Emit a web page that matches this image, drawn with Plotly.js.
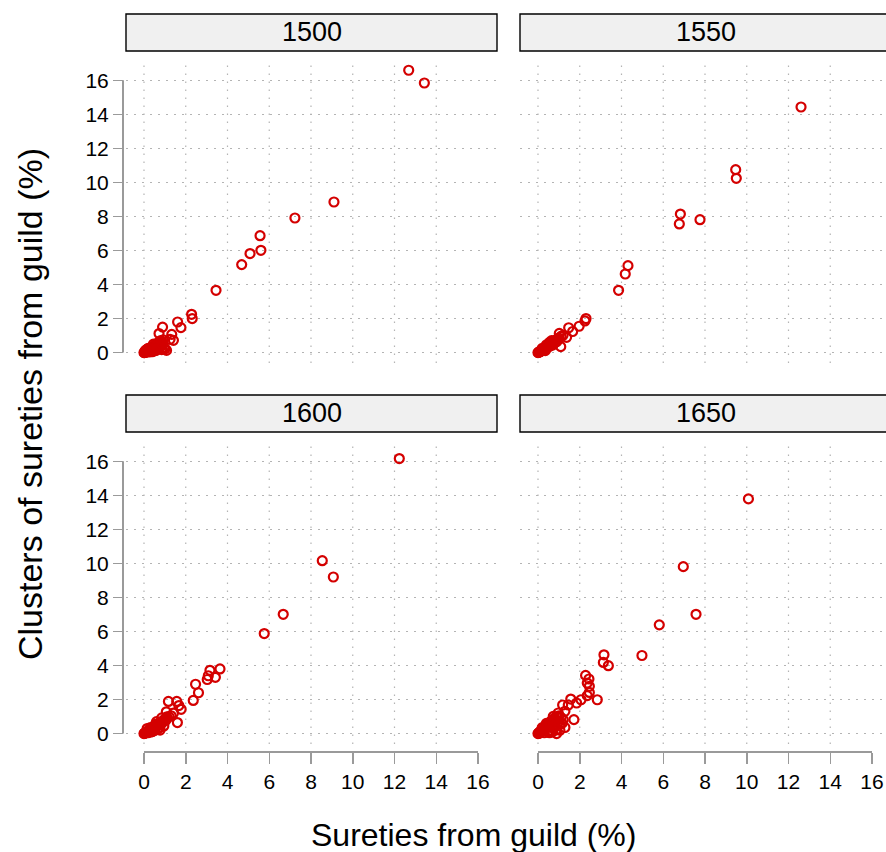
<!DOCTYPE html>
<html>
<head>
<meta charset="utf-8">
<script src="https://cdn.plot.ly/plotly-3.0.1.min.js"></script>
<style>html,body{margin:0;padding:0;background:#fff;}#chart{width:886px;height:852px;}</style>
</head>
<body>
<div id="chart"></div>
<script>
// ---------- data ----------
const panelNames = ["1500", "1550", "1600", "1650"];
const tickVals = [0, 2, 4, 6, 8, 10, 12, 14, 16];
const gridXVals = [0, 2, 4, 6, 8, 10, 12, 14];

const x1500 = [12.68, 13.43, 9.10, 7.23, 5.56, 5.60, 5.08, 4.68, 3.45, 2.28, 2.31, 1.61, 1.77, 0.89, 0.72, 1.33, 1.41, 1.25, 1.01, 1.08,
  0.00, 0.02, 0.05, 0.08, 0.10, 0.12, 0.15, 0.18, 0.20, 0.22, 0.25, 0.28, 0.30, 0.33, 0.35, 0.38, 0.40, 0.42, 0.45, 0.48,
  0.50, 0.52, 0.55, 0.58, 0.60, 0.62, 0.65, 0.68, 0.70, 0.72, 0.75, 0.78, 0.80, 0.85, 0.90, 0.95, 0.05, 0.10, 0.15, 0.20,
  0.30, 0.40, 0.50, 0.60, 0.70, 0.03, 0.25, 0.35, 0.55, 0.65, 0.75, 0.85, 0.45, 0.92];
const y1500 = [16.59, 15.84, 8.85, 7.91, 6.87, 6.01, 5.82, 5.17, 3.66, 2.25, 2.00, 1.80, 1.47, 1.50, 1.12, 1.07, 0.72, 0.78, 0.23, 0.13,
  0.00, 0.00, 0.02, 0.05, 0.03, 0.08, 0.05, 0.10, 0.12, 0.08, 0.15, 0.10, 0.20, 0.15, 0.25, 0.18, 0.30, 0.22, 0.35, 0.25,
  0.40, 0.30, 0.45, 0.35, 0.50, 0.38, 0.55, 0.40, 0.60, 0.45, 0.65, 0.50, 0.70, 0.40, 0.55, 0.30, 0.10, 0.15, 0.20, 0.25,
  0.10, 0.05, 0.20, 0.15, 0.30, 0.01, 0.04, 0.08, 0.12, 0.22, 0.28, 0.18, 0.50, 0.75];

const x1550 = [12.60, 9.47, 9.50, 6.82, 6.77, 7.76, 4.31, 4.18, 3.86, 2.30, 2.25, 1.97, 1.47, 1.66, 1.02, 1.37, 1.09,
  0.00, 0.02, 0.05, 0.08, 0.10, 0.12, 0.15, 0.18, 0.20, 0.23, 0.25, 0.28, 0.30, 0.33, 0.35, 0.38, 0.40, 0.43, 0.45, 0.48,
  0.50, 0.53, 0.55, 0.58, 0.60, 0.63, 0.65, 0.68, 0.70, 0.73, 0.75, 0.80, 0.85, 0.90, 0.95, 1.00, 1.10, 1.20, 0.30, 0.45,
  0.60, 0.75, 0.90, 0.20, 0.40, 0.55, 0.70, 0.85, 0.35, 0.65];
const y1550 = [14.43, 10.75, 10.24, 8.14, 7.56, 7.81, 5.11, 4.62, 3.66, 2.00, 1.86, 1.55, 1.46, 1.24, 1.13, 0.90, 0.35,
  0.00, 0.01, 0.03, 0.05, 0.08, 0.07, 0.12, 0.13, 0.17, 0.18, 0.22, 0.21, 0.26, 0.27, 0.30, 0.30, 0.35, 0.34, 0.40, 0.38,
  0.44, 0.42, 0.48, 0.46, 0.52, 0.50, 0.57, 0.55, 0.62, 0.58, 0.66, 0.70, 0.72, 0.78, 0.80, 0.86, 0.95, 1.02, 0.15, 0.28,
  0.40, 0.52, 0.65, 0.25, 0.45, 0.60, 0.45, 0.62, 0.12, 0.70];

const x1600 = [12.23, 8.54, 9.07, 6.67, 5.76, 3.64, 3.16, 3.08, 3.42, 3.03, 2.47, 2.61, 2.36, 1.17, 1.57, 1.67, 1.78, 1.07, 1.41, 1.60,
  1.09, 0.85, 0.77,
  0.00, 0.02, 0.05, 0.08, 0.10, 0.12, 0.15, 0.18, 0.20, 0.22, 0.25, 0.28, 0.30, 0.33, 0.35, 0.38, 0.40, 0.42, 0.45, 0.48,
  0.50, 0.52, 0.55, 0.58, 0.60, 0.62, 0.65, 0.68, 0.70, 0.75, 0.80, 0.85, 0.90, 0.95, 1.00, 1.05, 1.10, 1.20, 1.30, 0.20,
  0.35, 0.50, 0.65, 0.40, 0.95, 0.30, 0.55, 0.75, 0.60, 0.15];
const y1600 = [16.16, 10.16, 9.20, 7.01, 5.88, 3.80, 3.72, 3.40, 3.31, 3.18, 2.90, 2.40, 1.95, 1.89, 1.89, 1.65, 1.43, 1.28, 1.20, 0.65,
  0.98, 0.92, 0.21,
  0.00, 0.02, 0.03, 0.06, 0.05, 0.10, 0.08, 0.14, 0.12, 0.18, 0.15, 0.22, 0.20, 0.25, 0.28, 0.24, 0.32, 0.30, 0.36, 0.33,
  0.40, 0.38, 0.44, 0.42, 0.48, 0.45, 0.52, 0.50, 0.58, 0.62, 0.68, 0.60, 0.72, 0.80, 0.85, 0.78, 0.90, 1.00, 1.05, 0.05,
  0.10, 0.18, 0.25, 0.12, 0.45, 0.35, 0.55, 0.35, 0.70, 0.30];

const x1650 = [10.08, 6.96, 7.57, 5.81, 4.98, 3.16, 3.13, 3.37, 2.28, 2.44, 2.36, 2.46, 2.46, 2.36, 2.84, 2.06, 1.85, 1.57, 1.45, 1.18,
  1.29, 0.97, 1.72, 0.73, 1.21, 1.29, 0.89,
  0.00, 0.02, 0.05, 0.08, 0.10, 0.12, 0.15, 0.18, 0.20, 0.22, 0.25, 0.28, 0.30, 0.33, 0.35, 0.38, 0.40, 0.42, 0.45, 0.48,
  0.50, 0.52, 0.55, 0.58, 0.60, 0.62, 0.65, 0.68, 0.70, 0.75, 0.80, 0.85, 0.90, 0.95, 1.00, 1.05, 1.10, 0.30, 0.45, 0.60,
  0.75, 0.90, 0.55, 0.70, 1.05, 0.20, 0.40, 0.80, 1.15];
const y1650 = [13.79, 9.81, 7.01, 6.39, 4.59, 4.63, 4.18, 3.99, 3.42, 3.21, 2.97, 2.78, 2.42, 2.23, 1.99, 1.99, 1.80, 2.03, 1.68, 1.68,
  1.31, 1.21, 0.82, 1.01, 0.82, 0.36, 0.00,
  0.00, 0.03, 0.02, 0.08, 0.05, 0.14, 0.10, 0.20, 0.15, 0.26, 0.20, 0.32, 0.25, 0.38, 0.30, 0.45, 0.35, 0.50, 0.40, 0.55,
  0.48, 0.60, 0.52, 0.66, 0.58, 0.72, 0.62, 0.78, 0.70, 0.85, 0.92, 0.75, 0.98, 0.65, 1.05, 0.55, 0.95, 0.05, 0.10, 0.15,
  0.30, 0.25, 0.05, 0.10, 0.20, 0.35, 0.60, 0.45, 0.60];

const seriesX = [x1500, x1550, x1600, x1650];
const seriesY = [y1500, y1550, y1600, y1650];

// ---------- layout geometry (pixels) ----------
const W = 886, H = 852;
const colPx = [[126, 497], [520, 891]];
const rowPx = [[51, 371], [432, 752]];
const stripPx = [[14, 51], [395, 432]];
const xRange = [-0.862, 16.91];
const yRange = [-1.08, 17.72];
const red = "#D40000";
const axisGrey = "#9a9a9a";
const gridGrey = "#b4b4b4";
const FONT = "Liberation Sans, Arial, Helvetica, sans-serif";

const px2x = p => p / W;
const px2y = p => 1 - p / H;

const traces = [];
const layout = {
  width: W, height: H,
  margin: {l: 0, r: 0, t: 0, b: 0},
  paper_bgcolor: "#fff", plot_bgcolor: "rgba(0,0,0,0)",
  showlegend: false,
  font: {family: FONT, color: "#000"},
  shapes: [], annotations: []
};

panelNames.forEach((name, i) => {
  const col = i % 2, row = Math.floor(i / 2);
  const sfx = i === 0 ? "" : String(i + 1);
  const xa = "xaxis" + sfx, ya = "yaxis" + sfx;
  const xr = "x" + sfx, yr = "y" + sfx;
  const x0 = px2x(colPx[col][0]);
  const x1 = Math.min(1, px2x(colPx[col][1]));
  const xRightVal = xRange[0] + (xRange[1] - xRange[0]) * (x1 * W - colPx[col][0]) / (colPx[col][1] - colPx[col][0]);

  traces.push({
    type: "scatter", mode: "markers", name: name,
    x: seriesX[i], y: seriesY[i], xaxis: xr, yaxis: yr,
    marker: {symbol: "circle-open", size: 9, color: red, line: {width: 2.2, color: red}},
    hoverinfo: "x+y"
  });

  const showX = row === 1, showY = col === 0;
  layout[xa] = {
    domain: [x0, x1], range: [xRange[0], xRightVal], anchor: yr,
    showgrid: false, zeroline: false, showline: false,
    tickmode: "array", tickvals: tickVals, ticktext: tickVals.map(String),
    ticks: showX ? "outside" : "", ticklen: 11, tickwidth: 1.5, tickcolor: axisGrey,
    showticklabels: showX, tickfont: {size: 21, family: FONT, color: "#000"}
  };
  layout[ya] = {
    domain: [px2y(rowPx[row][1]), px2y(rowPx[row][0])], range: yRange,
    anchor: showY ? "free" : xr,
    showgrid: true, gridcolor: gridGrey, gridwidth: 1.2, griddash: "1.5px,6.5px",
    zeroline: false, showline: false,
    tickmode: "array", tickvals: tickVals, ticktext: tickVals.map(String),
    ticks: showY ? "outside" : "", ticklen: 10, tickwidth: 1.5, tickcolor: axisGrey,
    showticklabels: showY, tickfont: {size: 21, family: FONT, color: "#000"}
  };
  if (showY) layout[ya].position = px2x(123);

  // vertical dotted grid
  gridXVals.forEach(g => {
    layout.shapes.push({type: "line", layer: "below", xref: xr, yref: yr + " domain",
      x0: g, x1: g, y0: 0.025, y1: 0.975,
      line: {color: gridGrey, width: 1.2, dash: "1.5px,6.5px"}});
  });
  // axis lines spanning tick range
  if (showY) {
    layout.shapes.push({type: "line", xref: "paper", yref: yr,
      x0: px2x(123), x1: px2x(123), y0: tickVals[0], y1: tickVals[tickVals.length - 1],
      line: {color: axisGrey, width: 2}});
  }
  if (showX) {
    layout.shapes.push({type: "line", xref: xr, yref: "paper",
      x0: tickVals[0], x1: tickVals[tickVals.length - 1], y0: px2y(752), y1: px2y(752),
      line: {color: axisGrey, width: 2}});
  }
  // strip
  layout.shapes.push({type: "rect", xref: "paper", yref: "paper",
    x0: px2x(colPx[col][0]), x1: px2x(colPx[col][1]),
    y0: px2y(stripPx[row][1]), y1: px2y(stripPx[row][0]),
    fillcolor: "#f0f0f0", line: {color: "#000", width: 1.4}});
  layout.annotations.push({xref: "paper", yref: "paper",
    x: px2x((colPx[col][0] + colPx[col][1]) / 2), y: px2y((stripPx[row][0] + stripPx[row][1]) / 2),
    text: name, showarrow: false, xanchor: "center", yanchor: "middle",
    font: {size: 27, family: FONT, color: "#000"}});
});

layout.annotations.push({xref: "paper", yref: "paper", x: px2x(473), y: px2y(835),
  text: "Sureties from guild (%)", showarrow: false, xanchor: "center", yanchor: "middle",
  font: {size: 32, family: FONT, color: "#000"}});
layout.annotations.push({xref: "paper", yref: "paper", x: px2x(30), y: px2y(404),
  text: "Clusters of sureties from guild (%)", showarrow: false, textangle: -90,
  xanchor: "center", yanchor: "middle",
  font: {size: 34, family: FONT, color: "#000"}});

Plotly.newPlot("chart", traces, layout, {displayModeBar: false, staticPlot: true});
</script>
</body>
</html>
